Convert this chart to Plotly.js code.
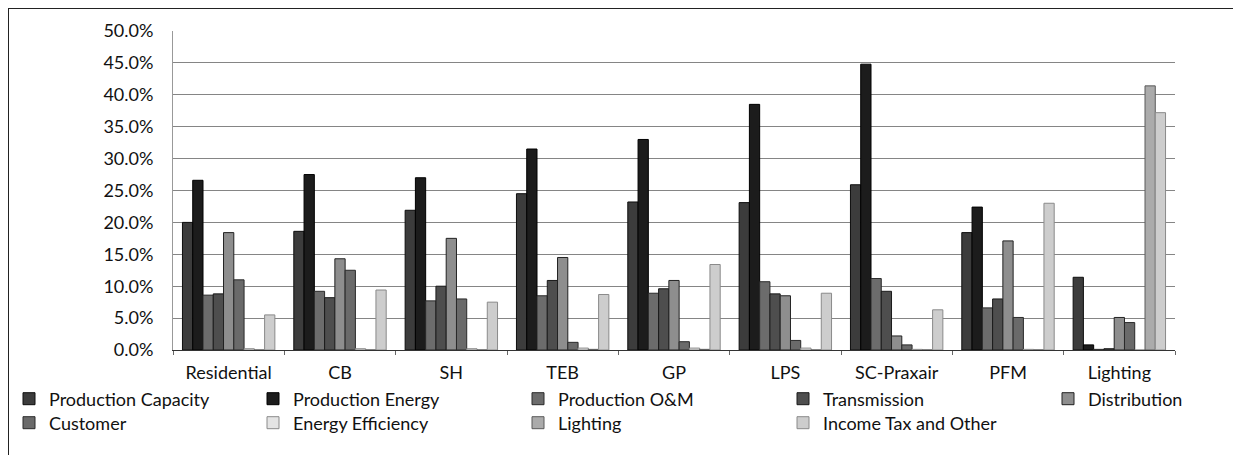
<!DOCTYPE html>
<html>
<head>
<meta charset="utf-8">
<script src="https://cdn.plot.ly/plotly-3.0.1.min.js"></script>
<style>
  html, body { margin: 0; padding: 0; background: #fff; width: 1233px; height: 455px; overflow: hidden; }
  #frame { position: absolute; left: 8px; top: 8px; width: 1225px; height: 447px;
           border-left: 1.5px solid #222; border-top: 1.5px solid #222; box-sizing: border-box; }
  #chart { position: absolute; left: 0; top: 0; width: 1224px; height: 446px; }
</style>
</head>
<body>
<div id="frame"><div id="chart"></div></div>
<script>
// Categories (rate classes)
const categories = ["Residential", "CB", "SH", "TEB", "GP", "LPS", "SC-Praxair", "PFM", "Lighting"];

// Series names
const seriesNames = ["Production Capacity", "Production Energy", "Production O&M", "Transmission",
  "Distribution", "Customer", "Energy Efficiency", "Lighting", "Income Tax and Other"];

// Values in percent, per series across categories
const productionCapacity = [20.0, 18.6, 21.9, 24.5, 23.2, 23.1, 25.9, 18.4, 11.4];
const productionEnergy   = [26.6, 27.5, 27.0, 31.5, 33.0, 38.5, 44.8, 22.4, 0.8];
const productionOM       = [8.6, 9.2, 7.7, 8.5, 8.9, 10.7, 11.2, 6.6, 0.1];
const transmission       = [8.8, 8.2, 10.0, 10.9, 9.6, 8.8, 9.2, 8.0, 0.2];
const distribution       = [18.4, 14.3, 17.5, 14.5, 10.9, 8.5, 2.2, 17.1, 5.1];
const customer           = [11.0, 12.5, 8.0, 1.2, 1.3, 1.5, 0.8, 5.1, 4.3];
const energyEfficiency   = [0.2, 0.2, 0.2, 0.3, 0.3, 0.3, 0.1, 0.1, 0.0];
const lightingComp       = [0.0, 0.0, 0.0, 0.1, 0.1, 0.0, 0.0, 0.0, 41.4];
const incomeTaxOther     = [5.5, 9.4, 7.5, 8.7, 13.4, 8.9, 6.3, 23.0, 37.2];

const yTickVals = [0, 5, 10, 15, 20, 25, 30, 35, 40, 45, 50];
const yTickText = ["0.0%", "5.0%", "10.0%", "15.0%", "20.0%", "25.0%", "30.0%", "35.0%", "40.0%", "45.0%", "50.0%"];

const seriesValues = [productionCapacity, productionEnergy, productionOM, transmission,
  distribution, customer, energyEfficiency, lightingComp, incomeTaxOther];

const fills = ["#3c3c3c", "#1c1c1c", "#6c6c6c", "#4e4e4e", "#8e8e8e", "#6a6a6a", "#e4e4e4", "#ababab", "#cdcdcd"];
const lines = ["#0e0e0e", "#000000", "#2a2a2a", "#1a1a1a", "#222222", "#2a2a2a", "#8a8a8a", "#5a5a5a", "#8a8a8a"];

const FONT = "Lato, 'Open Sans', 'Noto Sans', sans-serif";
const W = 1224, H = 446;

// legend layout: 5 columns x 2 rows (page pixel text start / row center)
const legendColText = [28, 293, 558, 823, 1088];
const legendRowY = [398, 422];

const traces = seriesNames.map((name, i) => ({
  type: "bar",
  name: name,
  x: categories,
  y: seriesValues[i],
  legend: i === 0 ? "legend" : "legend" + (i + 1),
  marker: { color: fills[i], line: { color: lines[i], width: 1 } },
  hovertemplate: "%{x}<br>" + name + ": %{y:.1f}%<extra></extra>"
}));

const layout = {
  width: W,
  height: H,
  margin: { l: 164, r: 58, t: 22, b: 105 },
  paper_bgcolor: "#ffffff",
  plot_bgcolor: "#ffffff",
  barmode: "group",
  bargap: 0.17,
  bargroupgap: 0,
  font: { family: FONT, size: 18, color: "#111" },
  showlegend: true,
  xaxis: {
    type: "category",
    showgrid: false,
    showline: true, linecolor: "#333", linewidth: 1,
    ticks: "outside", tickson: "boundaries", ticklen: 4, tickcolor: "#666",
    ticklabelstandoff: 6,
    tickfont: { family: FONT, size: 18, color: "#111" },
    zeroline: false
  },
  yaxis: {
    range: [0, 50],
    tickvals: yTickVals,
    ticktext: yTickText,
    showgrid: true, gridcolor: "#858585", gridwidth: 1,
    zeroline: true, zerolinecolor: "#333", zerolinewidth: 1,
    showline: true, linecolor: "#999", linewidth: 1,
    ticks: "", ticklabelstandoff: 15,
    tickfont: { family: FONT, size: 18, color: "#111" }
  }
};

seriesNames.forEach((name, i) => {
  const col = i % 5, row = Math.floor(i / 5);
  const key = i === 0 ? "legend" : "legend" + (i + 1);
  layout[key] = {
    orientation: "h",
    xref: "container", yref: "container",
    x: (legendColText[col] - 8 - 41) / W,
    y: 1 - (legendRowY[row] - 8) / H,
    xanchor: "left", yanchor: "middle",
    itemwidth: 30,
    font: { family: FONT, size: 18, color: "#111" },
    bgcolor: "rgba(0,0,0,0)"
  };
});

Plotly.newPlot("chart", traces, layout, { displayModeBar: false, staticPlot: true });
</script>
</body>
</html>
